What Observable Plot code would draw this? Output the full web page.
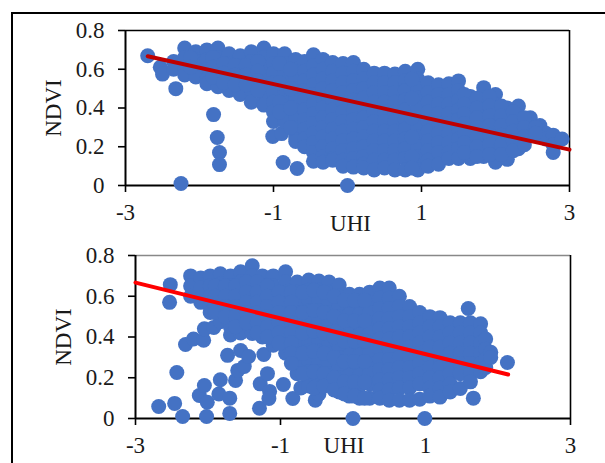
<!DOCTYPE html>
<html><head><meta charset="utf-8">
<script src="https://cdn.jsdelivr.net/npm/d3@7"></script>
<script src="https://cdn.jsdelivr.net/npm/@observablehq/plot@0.6"></script>
<style>
html,body{margin:0;padding:0;background:#fff;width:605px;height:463px;overflow:hidden}
#frame{position:absolute;left:11px;top:12px;width:600px;height:460px;border-left:2px solid #000;border-top:2px solid #000}
svg{position:absolute;left:0;overflow:visible;background:transparent}
svg, svg text, svg g{font-family:"Liberation Serif",serif !important}
</style></head><body><div id="frame"></div><div id="root"></div>
<script>
const xTicks=[-3,-1,1,3];
const yTicks=[0,.2,.4,.6,.8];
const xLabel="UHI", yLabel="NDVI";
const upperLooseX=[-2.70,-2.53,-2.50,-2.32,-1.81,-1.76,-1.73,-1.73,-2.25,-.87,-.68,-1.01,-.89,0];
const upperLooseY=[.67,.61,.575,.50,.366,.248,.17,.108,.01,.119,.088,.253,.268,0];
const upperColX=[-2.35,-2.2,-2.05,-1.9,-1.75,-1.6,-1.45,-1.3,-1.13,-1,-.85,-.7,-.58,-.46,-.33,-.2,-.06,.08,.22,.36,.5,.64,.78,.95,1.09,1.23,1.37,1.5,1.66,1.84,2,2.16,2.31,2.47,2.6,2.68,2.78,2.9,
-2.12,-1.82,-1.67,-1.52,-1.37,-1.21,-.92,-.77,.87,1.58,1.75,1.92,2.08,2.24,2.39,2.54];
const upperColY=[
[.64,.6],[.71,.66,.61,.57],[.69,.64,.59,.56],[.7,.65,.6,.55,.525],[.71,.66,.61,.56,.51],[.68,.63,.58,.53,.49],[.67,.62,.57,.52,.47],[.69,.64,.59,.54,.49,.43],
[.71,.66,.61,.56,.51,.46,.415],[.68,.63,.58,.53,.48,.43,.38,.33],[.68,.63,.58,.53,.48,.43,.38,.33],[.65,.6,.55,.5,.45,.4,.35,.3,.25,.227],[.64,.59,.54,.49,.44,.39,.34,.29,.24,.2],
[.675,.62,.57,.52,.47,.42,.37,.32,.27,.22,.17,.125],[.65,.6,.55,.5,.45,.4,.35,.3,.25,.2,.15,.12],[.635,.59,.54,.49,.44,.39,.34,.29,.24,.19,.14,.13],
[.63,.58,.53,.48,.43,.38,.33,.28,.23,.18,.13,.1],[.635,.59,.54,.49,.44,.39,.34,.29,.24,.19,.14,.095],[.6,.55,.5,.45,.4,.35,.3,.25,.2,.15,.11,.09],
[.58,.53,.48,.43,.38,.33,.28,.23,.18,.13,.08],[.58,.53,.48,.43,.38,.33,.28,.23,.18,.13,.09],[.575,.53,.48,.43,.38,.33,.28,.23,.18,.13,.08],
[.59,.54,.49,.44,.39,.34,.29,.24,.19,.14,.08],[.6,.55,.5,.45,.4,.35,.3,.25,.2,.15,.1,.08],[.53,.48,.43,.38,.33,.28,.23,.18,.13,.1],[.52,.47,.42,.37,.32,.27,.22,.17,.11],
[.525,.47,.42,.37,.32,.27,.22,.17,.14],[.54,.49,.44,.39,.34,.29,.24,.19,.14],[.46,.41,.36,.31,.26,.21,.16,.14],[.505,.45,.4,.35,.3,.25,.2,.15],[.47,.42,.37,.32,.27,.22,.17,.12],
[.4,.35,.3,.25,.2,.135],[.41,.36,.31,.26,.19],[.35,.3,.26],[.31,.26],[.27,.24],[.26,.21,.17],[.24],
[.66,.61],[.66,.61,.56],[.63,.58,.53],[.62,.57,.52],[.62,.57,.52],[.64,.59,.54,.49],[.63,.53,.43,.38],[.6,.5,.4,.3],[.55,.45,.35,.25,.15,.09],[.47,.42,.37,.32,.27,.22,.17],[.45,.4,.35,.3,.25,.2,.15],[.46,.41,.36,.31,.26,.21,.16],[.41,.36,.31,.26,.21,.16],[.38,.33,.28,.23,.18],[.35,.3,.25,.21],[.3,.27]
];
const upperTrendX=[-2.7,3], upperTrendY=[.667,.185];

const lowerLooseX=[-2.52,-2.53,-2.68,-2.46,-2.43,-2.35,-2.02,-1.7,-1.29,-2.31,-2.2,-2.06,-2.05,-2.12,-2.05,-2.01,-1.85,-1.83,-1.7,-1.62,-1.59,-1.5,-1.73,-1.55,-1.44,-1.28,-1.18,-1.15,-1.16,-1.23,-.96,-.83,-1.92,-.72,-.52,0,.99,2.13,1.59,1.66];
const lowerLooseY=[.657,.57,.059,.074,.226,.01,.01,.025,.05,.363,.39,.384,.44,.113,.162,.08,.12,.19,.1,.187,.236,.255,.31,.334,.304,.17,.22,.133,.098,.314,.167,.098,.447,.15,.09,0,0,.275,.54,.1];
const lowerColX=[-2.24,-2.1,-1.97,-1.83,-1.69,-1.55,-1.39,-1.25,-1.1,-.93,-.77,-.61,-.47,-.33,-.19,-.05,.09,.23,.37,.5,.64,.78,.92,1.06,1.2,1.34,1.48,1.62,1.76,1.83,1.9,
-1.9,-1.76,-1.62,-1.47,-1.32,-1.18,-1.02,-.85,-.69,-.54,-.4,-.26,-.12,.02,.16];
const lowerColY=[
[.7,.65,.6],[.69,.64,.59,.57],[.7,.65,.6,.55,.52],[.71,.66,.61,.56,.51,.475],[.7,.65,.6,.55,.5,.45,.41],[.72,.67,.62,.57,.52,.47,.42],[.75,.7,.65,.6,.55,.5,.45,.417],
[.7,.65,.6,.55,.5,.45,.4],[.7,.65,.6,.55,.5,.45,.4,.36],[.72,.67,.62,.57,.52,.47,.42,.37,.32],[.67,.62,.57,.52,.47,.42,.37,.32,.27,.22],
[.68,.63,.58,.53,.48,.43,.38,.33,.28,.23,.18,.16],[.675,.63,.58,.53,.48,.43,.38,.33,.28,.23,.18,.12],[.67,.62,.57,.52,.47,.42,.37,.32,.27,.22,.165],
[.655,.6,.55,.5,.45,.4,.35,.3,.25,.2,.15,.13],[.61,.56,.51,.46,.41,.36,.31,.26,.21,.16,.11],[.61,.56,.51,.46,.41,.36,.31,.26,.21,.16,.1],
[.62,.57,.52,.47,.42,.37,.32,.27,.22,.17,.1],[.64,.59,.54,.49,.44,.39,.34,.29,.24,.19,.14,.1],[.64,.59,.54,.49,.44,.39,.34,.29,.24,.19,.14,.09],
[.6,.55,.5,.45,.4,.35,.3,.25,.2,.15,.09],[.55,.5,.45,.4,.35,.3,.25,.2,.15,.09],[.52,.47,.42,.37,.32,.27,.22,.17,.095],[.5,.45,.4,.35,.3,.25,.2,.15,.11],
[.495,.45,.4,.35,.3,.25,.2,.15,.105],[.47,.42,.37,.32,.27,.22,.17,.13],[.47,.42,.37,.32,.27,.22,.147],[.47,.42,.37,.32,.27,.22,.18],[.465,.42,.37,.32,.27,.23],[.39,.34,.29,.25],[.325,.3],
[.65,.6,.55,.52],[.65,.6,.55,.5],[.65,.6,.55,.5,.45],[.67,.62,.57,.52,.47],[.67,.62,.57,.52,.47,.42],[.65,.6,.55,.5,.45,.4],[.62,.57,.52,.47,.42,.37],[.62,.57,.52,.47,.42,.37,.32,.27],[.62,.52,.42,.32,.22],[.63,.53,.43,.33,.23,.15],[.62,.52,.42,.32,.22,.16],[.6,.5,.4,.3,.2,.14],[.58,.48,.38,.28,.18,.12],[.58,.48,.38,.28,.18,.11],[.58,.48,.38,.28,.18,.1]
];
const lowerTrendX=[-3,2.14], lowerTrendY=[.667,.216];

function points(looseX,looseY,colX,colY){
  const out=looseX.map((x,i)=>({x,y:looseY[i]}));
  colX.forEach((x,i)=>colY[i].forEach(y=>out.push({x,y})));
  return out;
}
function chart(o){
  const trend=o.trendX.map((x,i)=>({x,y:o.trendY[i]}));
  const p=Plot.plot({
    width:605,height:o.height,
    marginLeft:o.left,marginRight:605-o.right,marginTop:o.top,marginBottom:o.height-o.bottom,
    x:{domain:[-3,3]},y:{domain:[0,.8]},
    style:{fontFamily:"Liberation Serif",fontSize:o.fs+"px",color:"#1a1a1a",top:o.svgTop+"px",background:"transparent",overflow:"visible"},
    marks:[
      Plot.ruleY([.8],{stroke:o.topStroke,strokeWidth:1.6}),
      Plot.ruleX([3],{stroke:"#000",strokeWidth:1.6}),
      Plot.ruleX([-3],{stroke:"#000",strokeWidth:2}),
      Plot.ruleY([0],{stroke:"#000",strokeWidth:2}),
      Plot.axisX({ticks:xTicks,tickFormat:d=>String(d),tickSize:7,tickPadding:o.xPad,label:null,stroke:"#000",strokeWidth:1.6,fontSize:o.fs,fill:"#1a1a1a"}),
      Plot.axisY({ticks:yTicks,tickFormat:d=>String(d),tickSize:7,tickPadding:14,label:null,stroke:"#000",strokeWidth:1.6,fontSize:o.fs,fill:"#1a1a1a"}),
      Plot.text([xLabel],{frameAnchor:"bottom",dx:o.ulDx,dy:o.ulDy,fontSize:o.fs,fill:"#1a1a1a"}),
      Plot.text([yLabel],{frameAnchor:"left",textAnchor:"middle",rotate:-90,dx:o.ylDx,dy:o.ylDy,fontSize:o.fs,fill:"#1a1a1a"}),
      Plot.dot(points(o.looseX,o.looseY,o.colX,o.colY),{x:"x",y:"y",r:7.5,fill:"#4472c4",stroke:"none"}),
      Plot.line(trend,{x:"x",y:"y",stroke:o.trendColor,strokeWidth:4})
    ]
  });
  document.getElementById("root").appendChild(p);
}
chart({svgTop:0,height:235,left:125,right:569,top:30,bottom:185,fs:23,xPad:11,ulDx:3,ulDy:45,ylDx:-72,ylDy:0,topStroke:"#000",
  looseX:upperLooseX,looseY:upperLooseY,colX:upperColX,colY:upperColY,trendX:upperTrendX,trendY:upperTrendY,trendColor:"#c00000"});
chart({svgTop:225,height:238,left:135,right:570,top:30,bottom:193,fs:23,xPad:11,ulDx:-9,ulDy:34,ylDx:-72,ylDy:0,topStroke:"#888",
  looseX:lowerLooseX,looseY:lowerLooseY,colX:lowerColX,colY:lowerColY,trendX:lowerTrendX,trendY:lowerTrendY,trendColor:"#ff0000"});
</script></body></html>
